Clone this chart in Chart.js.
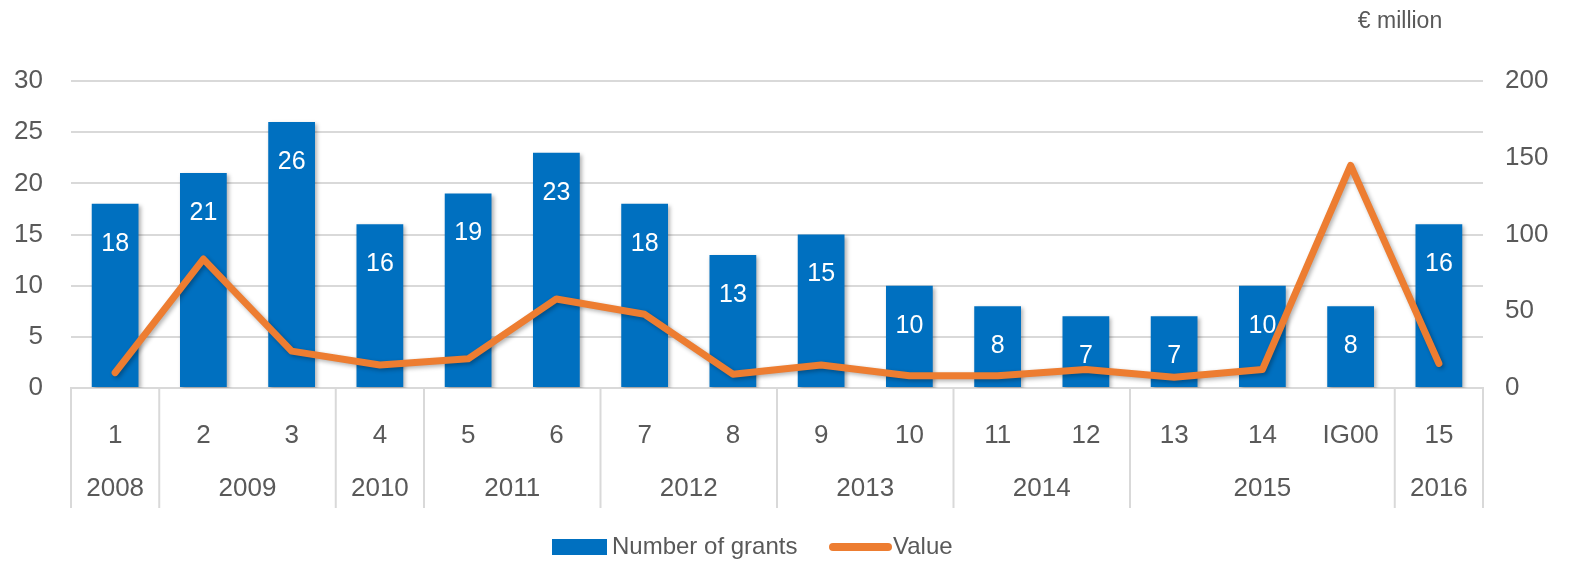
<!DOCTYPE html>
<html>
<head>
<meta charset="utf-8">
<script src="https://cdn.jsdelivr.net/npm/chart.js@4/dist/chart.umd.min.js"></script>
<style>
  html, body { margin: 0; padding: 0; background: #fff; }
  #wrap { width: 1573px; height: 567px; }
</style>
</head>
<body>
<div id="wrap"><canvas id="grantsChart" width="1573" height="567"></canvas></div>
<script>
// values
const grantLabels = ['1', '2', '3', '4', '5', '6', '7', '8', '9', '10', '11', '12', '13', '14', 'IG00', '15'];
const grantYears = ['2008', '2009', '2009', '2010', '2011', '2011', '2012', '2012', '2013', '2013', '2014', '2014', '2015', '2015', '2015', '2016'];
const grantCounts = [18, 21, 26, 16, 19, 23, 18, 13, 15, 10, 8, 7, 7, 10, 8, 16];
const grantValues = [10, 84, 24, 15, 19, 58, 48, 9, 15, 8, 8, 12, 7, 12, 145, 16];
const rightUnit = '€ million';

const FONT = "'Liberation Sans', Arial, sans-serif";
const TEXT = '#595959';
const GRID = '#d9d9d9';
const BLUE = '#0070c0';
const ORANGE = '#ed7d31';

// year row, separators, bar labels, unit label and legend
const extrasPlugin = {
    id: 'extras',
    beforeDatasetsDraw(chart) {
        const ctx = chart.ctx;
        ctx.save();
        ctx.shadowColor = 'rgba(0,0,0,0.3)';
        ctx.shadowBlur = 4;
        ctx.shadowOffsetX = 2;
        ctx.shadowOffsetY = 2;
    },
    afterDatasetsDraw(chart) {
        const ctx = chart.ctx;
        ctx.restore();
        const x = chart.scales.x;
        const area = chart.chartArea;

        // labels inside the bars
        const barMeta = chart.getDatasetMeta(1);
        ctx.save();
        ctx.fillStyle = '#fff';
        ctx.font = '25px ' + FONT;
        ctx.textAlign = 'center';
        ctx.textBaseline = 'middle';
        barMeta.data.forEach((bar, i) => {
            ctx.fillText(String(grantCounts[i]), bar.x, bar.y + 40);
        });
        ctx.restore();

        // separators and year labels
        const top = area.bottom;
        const bottom = area.bottom + 120;
        const bounds = [area.left];
        const groups = [];
        let start = 0;
        for (let i = 1; i <= grantYears.length; i++) {
            if (i === grantYears.length || grantYears[i] !== grantYears[start]) {
                groups.push({ year: grantYears[start], from: start, to: i - 1 });
                if (i < grantYears.length) {
                    bounds.push((x.getPixelForValue(i - 1) + x.getPixelForValue(i)) / 2);
                }
                start = i;
            }
        }
        bounds.push(area.right);
        ctx.save();
        ctx.strokeStyle = GRID;
        ctx.lineWidth = 2;
        bounds.forEach(bx => {
            ctx.beginPath();
            ctx.moveTo(bx, top);
            ctx.lineTo(bx, bottom);
            ctx.stroke();
        });
        ctx.fillStyle = TEXT;
        ctx.font = '26px ' + FONT;
        ctx.textAlign = 'center';
        ctx.textBaseline = 'middle';
        groups.forEach(g => {
            const cx = (x.getPixelForValue(g.from) + x.getPixelForValue(g.to)) / 2;
            ctx.fillText(g.year, cx, area.bottom + 101);
        });

        // unit over the right axis
        ctx.font = '23px ' + FONT;
        ctx.textAlign = 'center';
        ctx.fillText(rightUnit, 1400, 22);

        // legend
        const ly = 547;
        ctx.font = '24px ' + FONT;
        ctx.textAlign = 'left';
        ctx.fillStyle = BLUE;
        ctx.fillRect(552, ly - 8, 55, 16);
        ctx.fillStyle = TEXT;
        ctx.fillText(chart.data.datasets[1].label, 612, ly);
        ctx.strokeStyle = ORANGE;
        ctx.lineWidth = 8;
        ctx.lineCap = 'round';
        ctx.beginPath();
        ctx.moveTo(833, ly);
        ctx.lineTo(888, ly);
        ctx.stroke();
        ctx.fillText(chart.data.datasets[0].label, 893, ly);
        ctx.restore();
    }
};

new Chart(document.getElementById('grantsChart'), {
    data: {
        labels: grantLabels,
        datasets: [
            {
                type: 'line', label: 'Value', data: grantValues, yAxisID: 'y2', order: 0,
                borderColor: ORANGE, borderWidth: 7, pointRadius: 0, tension: 0,
                borderJoinStyle: 'round', borderCapStyle: 'round'
            },
            {
                type: 'bar', label: 'Number of grants', data: grantCounts, yAxisID: 'y', order: 1,
                backgroundColor: BLUE, barPercentage: 0.53, categoryPercentage: 1
            }
        ]
    },
    options: {
        responsive: false,
        animation: false,
        layout: { padding: { top: 81, bottom: 59, left: 0, right: 0 } },
        plugins: { legend: { display: false }, tooltip: { enabled: false } },
        scales: {
            x: {
                grid: { display: false, drawTicks: false },
                border: { display: true, color: GRID, width: 2 },
                ticks: { color: TEXT, font: { family: FONT, size: 26 }, padding: 32, maxRotation: 0, autoSkip: false },
                afterFit(scale) { scale.height = 120; }
            },
            y: {
                position: 'left', min: 0, max: 30,
                ticks: { stepSize: 5, color: TEXT, font: { family: FONT, size: 26 }, padding: 28 },
                grid: { color: GRID, lineWidth: 2, drawTicks: false },
                border: { display: false },
                afterFit(scale) { scale.width = 71; }
            },
            y2: {
                position: 'right', min: 0, max: 200,
                ticks: { stepSize: 50, color: TEXT, font: { family: FONT, size: 26 }, padding: 22 },
                grid: { display: false, drawTicks: false },
                border: { display: false },
                afterFit(scale) { scale.width = 90; }
            }
        }
    },
    plugins: [extrasPlugin]
});
</script>
</body>
</html>
